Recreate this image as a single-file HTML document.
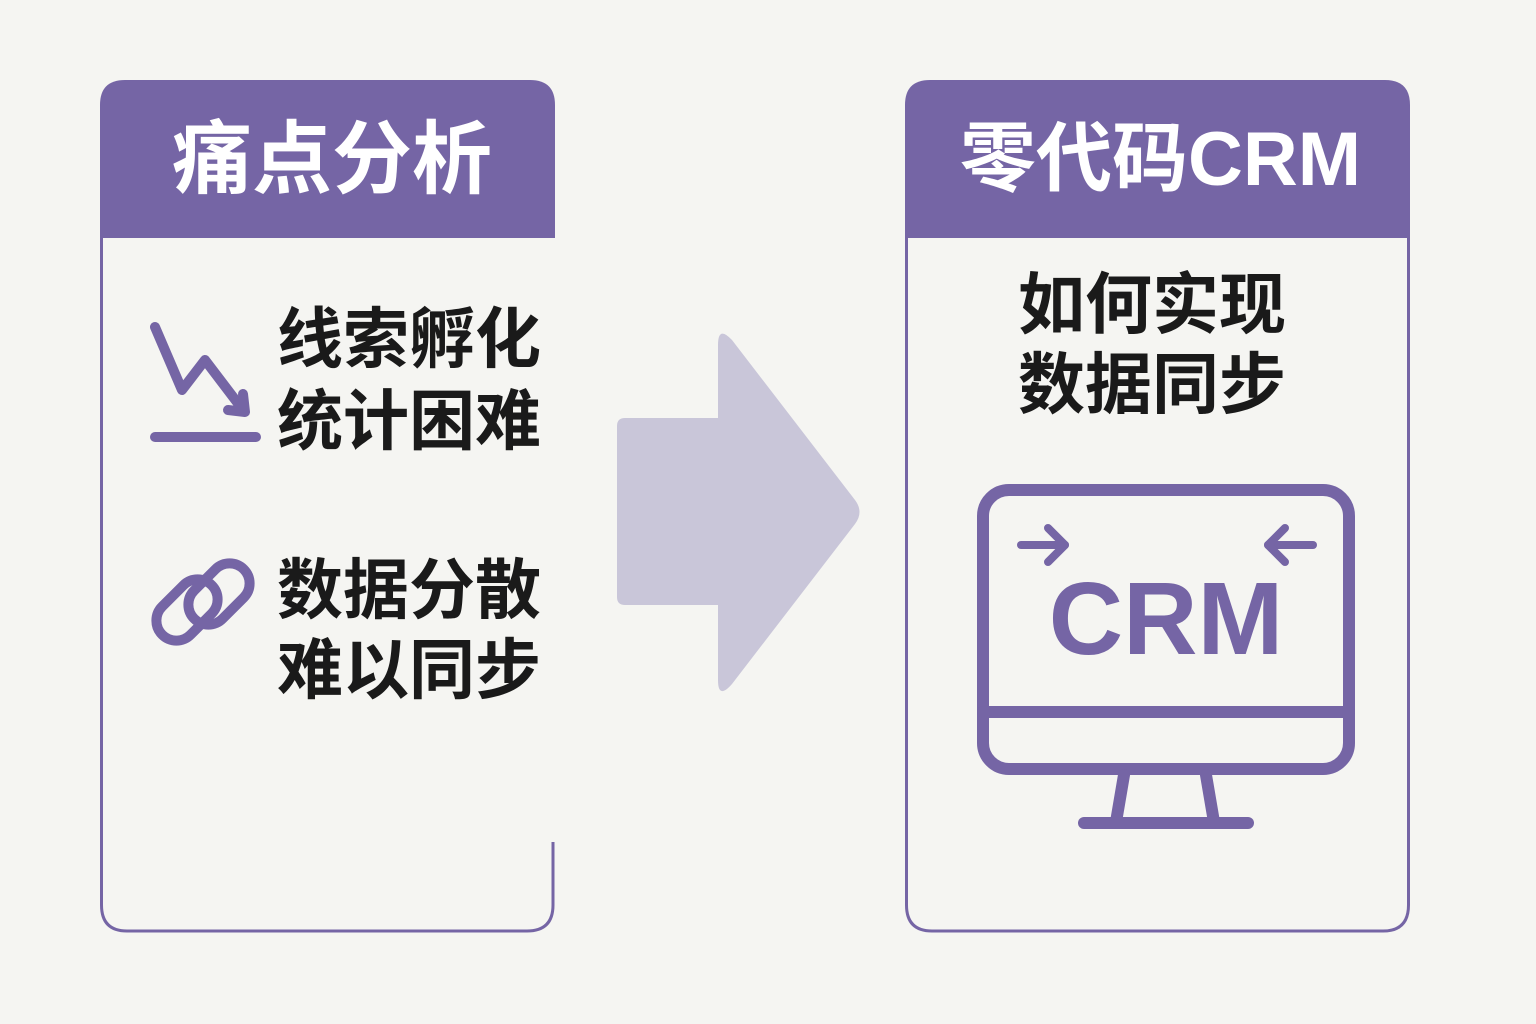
<!DOCTYPE html>
<html><head><meta charset="utf-8"><style>
html,body{margin:0;padding:0;background:#f5f5f2;}
body{width:1536px;height:1024px;overflow:hidden;position:relative;font-family:"Liberation Sans","Noto Sans CJK SC",sans-serif;}
.t{position:absolute;font-weight:bold;white-space:nowrap;line-height:1;}
</style></head><body>
<svg width="1536" height="1024" style="position:absolute;left:0;top:0">
<path d="M101.5,238 V905 Q101.5,931 127,931 H527 Q553,931 553,905 V842" fill="none" stroke="#7565a5" stroke-width="3"/>
<path d="M100,238 V105 Q100,80 125,80 H530 Q555,80 555,105 V238 Z" fill="#7565a5"/>
<path d="M906.5,238 V905 Q906.5,931 932,931 H1383 Q1408.5,931 1408.5,905 V238" fill="none" stroke="#7565a5" stroke-width="3"/>
<path d="M905,238 V105 Q905,80 930,80 H1385 Q1410,80 1410,105 V238 Z" fill="#7565a5"/>
<path d="M625,418 H718 V345 Q718,325 732,340 L855,500 Q864,512 855,524 L732,684 Q718,700 718,680 V605 H625 Q617,605 617,597 V426 Q617,418 625,418 Z" fill="#c9c6d9"/>
<g stroke="#7565a5" stroke-width="10" stroke-linecap="round" stroke-linejoin="round" fill="none">
<polyline points="155,327 182,390 205,360 243,410"/>
<polyline points="228,410 245,412 243,394"/>
<line x1="155" y1="437" x2="256" y2="437"/>
</g>
<g stroke="#7565a5" stroke-width="10" fill="none" stroke-linecap="round">
<rect x="152" y="590" width="70" height="40" rx="20" transform="rotate(-45 187 610)"/>
<rect x="184" y="574" width="70" height="40" rx="20" transform="rotate(-45 219 594)"/>
</g>
<g stroke="#7565a5" stroke-width="12" fill="none" stroke-linecap="round" stroke-linejoin="round">
<rect x="983" y="490" width="366" height="279" rx="26"/>
<line x1="983" y1="712" x2="1349" y2="712"/>
<polyline points="1124,775 1116,822"/>
<polyline points="1206,775 1214,822"/>
<line x1="1084" y1="823" x2="1248" y2="823"/>
<g stroke-width="8">
<line x1="1021" y1="545" x2="1065" y2="545"/><polyline points="1048,528 1065,545 1048,562"/>
<line x1="1313" y1="545" x2="1268" y2="545"/><polyline points="1285,528 1268,545 1285,562"/>
</g>
</g>
<text x="1166" y="654" text-anchor="middle" font-family="Liberation Sans, sans-serif" font-weight="bold" font-size="103" fill="#7565a5">CRM</text>
</svg>
<div class="t" style="left:172px;top:120px;font-size:80px;color:#fff;">痛点分析</div>
<div class="t" style="left:960px;top:122px;font-size:76px;color:#fff;">零代码CRM</div>
<div class="t" style="left:277px;top:306px;font-size:66px;color:#1a1a1a;">线索孵化</div>
<div class="t" style="left:277px;top:388px;font-size:66px;color:#1a1a1a;">统计困难</div>
<div class="t" style="left:277px;top:557px;font-size:66px;color:#1a1a1a;">数据分散</div>
<div class="t" style="left:277px;top:637px;font-size:66px;color:#1a1a1a;">难以同步</div>
<div class="t" style="left:1018px;top:272px;font-size:67px;color:#1a1a1a;">如何实现</div>
<div class="t" style="left:1018px;top:352px;font-size:67px;color:#1a1a1a;">数据同步</div>
</body></html>
